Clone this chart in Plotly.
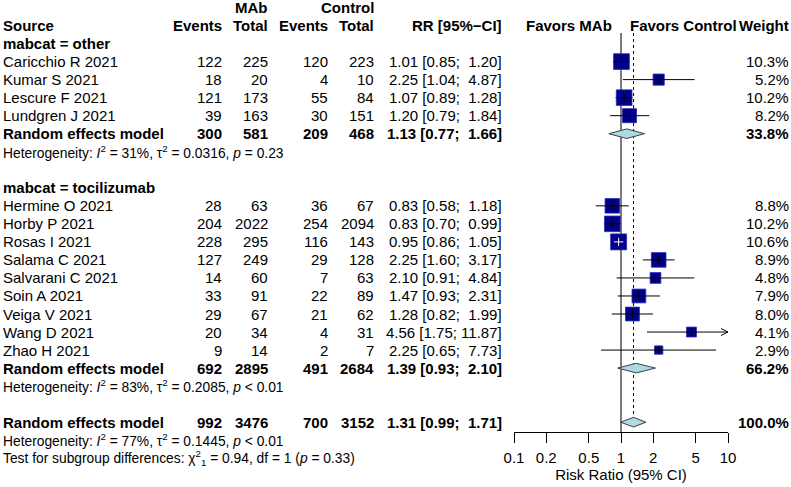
import math
import plotly.graph_objects as go

W, H = 791, 487
FONT = "Liberation Sans, Arial, Helvetica, sans-serif"

# ---------------- data ----------------
studies = ["Caricchio R 2021", "Kumar S 2021", "Lescure F 2021", "Lundgren J 2021",
           "Hermine O 2021", "Horby P 2021", "Rosas I 2021", "Salama C 2021",
           "Salvarani C 2021", "Soin A 2021", "Veiga V 2021", "Wang D 2021", "Zhao H 2021"]
group = [0, 0, 0, 0, 1, 1, 1, 1, 1, 1, 1, 1, 1]
ev_mab = [122, 18, 121, 39, 28, 204, 228, 127, 14, 33, 29, 20, 9]
n_mab = [225, 20, 173, 163, 63, 2022, 295, 249, 60, 91, 67, 34, 14]
ev_ctl = [120, 4, 55, 30, 36, 254, 116, 29, 7, 22, 21, 4, 2]
n_ctl = [223, 10, 84, 151, 67, 2094, 143, 128, 63, 89, 62, 31, 7]
rr = [1.01, 2.25, 1.07, 1.20, 0.83, 0.83, 0.95, 2.25, 2.10, 1.47, 1.28, 4.56, 2.25]
rr_lo = [0.85, 1.04, 0.89, 0.79, 0.58, 0.70, 0.86, 1.60, 0.91, 0.93, 0.82, 1.75, 0.65]
rr_hi = [1.20, 4.87, 1.28, 1.84, 1.18, 0.99, 1.05, 3.17, 4.84, 2.31, 1.99, 11.87, 7.73]
weight = [10.3, 5.2, 10.2, 8.2, 8.8, 10.2, 10.6, 8.9, 4.8, 7.9, 8.0, 4.1, 2.9]

sub_labels = ["mabcat = other", "mabcat = tocilizumab"]
sub_ev_mab = [300, 692]
sub_n_mab = [581, 2895]
sub_ev_ctl = [209, 491]
sub_n_ctl = [468, 2684]
sub_rr = [1.13, 1.39]
sub_lo = [0.77, 0.93]
sub_hi = [1.66, 2.10]
sub_weight = [33.8, 66.2]
sub_i2 = ["31%", "83%"]
sub_tau2 = ["0.0316", "0.2085"]
sub_p = ["= 0.23", "< 0.01"]

tot_ev_mab, tot_n_mab, tot_ev_ctl, tot_n_ctl = 992, 3476, 700, 3152
tot_rr, tot_lo, tot_hi, tot_weight = 1.31, 0.99, 1.71, 100.0
tot_i2, tot_tau2, tot_p = "77%", "0.1445", "< 0.01"
test_chi2, test_df, test_p = "0.94", "1", "0.33"

x_tickvals = [0.1, 0.2, 0.5, 1, 2, 5, 10]
x_ticktext = ["0.1", "0.2", "0.5", "1", "2", "5", "10"]
x_title = "Risk Ratio (95% CI)"

# ---------------- layout constants (pixels) ----------------
ROW0_PX = 7.5
ROW_PX = 18.03
AXIS_PX = 432
PLOT_L, PLOT_R = 514, 728
X_MIN, X_MAX = 0.1, 10
PX_PER_DEC = (PLOT_R - PLOT_L) / (math.log10(X_MAX) - math.log10(X_MIN))

C_SRC = 2
C_EVM = 223
C_NM = 268.5
C_EVC = 328.5
C_NC = 374.5
C_RR = 503
C_W = 790
FS = 15
FS_HET = 13.8
SQ_K = 4.9

NB = "\u00a0"


def px_row(px):
    return (px - ROW0_PX) / ROW_PX


annotations = []


def txt(s, px, row, anchor="right", bold=False, size=FS):
    annotations.append(dict(
        text=f"<b>{s}</b>" if bold else s, x=px / W, xref="paper", y=row, yref="y",
        xanchor=anchor, yanchor="middle", showarrow=False, borderpad=0,
        font=dict(family=FONT, size=size, color="black")))


def ci_text(e, l, h):
    return f"{e:.2f} [{l:.2f};{NB}{h:5.2f}]".replace(" ", NB)


def data_cols(row, a, b, c, d, e, l, h, w, bold=False):
    txt(str(a), C_EVM, row, bold=bold)
    txt(str(b), C_NM, row, bold=bold)
    txt(str(c), C_EVC, row, bold=bold)
    txt(str(d), C_NC, row, bold=bold)
    txt(ci_text(e, l, h), C_RR, row, bold=bold)
    txt(f"{w:.1f}%", C_W, row, bold=bold)


def het_text(i2, tau2, p):
    return (f"Heterogeneity: <i>I</i><sup>2</sup> = {i2}, τ<sup>2</sup> = {tau2}, "
            f"<i>p</i> {p}")


# headers
txt("MAb", C_NM, 0, bold=True)
txt("Control", C_NC, 0, bold=True)
txt("Source", C_SRC, 1, anchor="left", bold=True)
txt("Events", C_EVM, 1, bold=True)
txt("Total", C_NM, 1, bold=True)
txt("Events", C_EVC, 1, bold=True)
txt("Total", C_NC, 1, bold=True)
txt("RR [95%−CI]", C_RR, 1, bold=True)
one_px = PLOT_L + PX_PER_DEC * (0 - math.log10(X_MIN))
txt("Favors MAb", one_px - 8, 1, bold=True)
txt("Favors Control", one_px + 8, 1, anchor="left", bold=True)
txt("Weight", C_W, 1, bold=True)

study_rows = [0] * len(studies)
sub_rows = [0, 0]
r = 2
for g, name in enumerate(sub_labels):
    txt(name, C_SRC, r, anchor="left", bold=True)
    r += 1
    for i in range(len(studies)):
        if group[i] == g:
            study_rows[i] = r
            txt(studies[i], C_SRC, r, anchor="left")
            data_cols(r, ev_mab[i], n_mab[i], ev_ctl[i], n_ctl[i], rr[i], rr_lo[i], rr_hi[i], weight[i])
            r += 1
    sub_rows[g] = r
    txt("Random effects model", C_SRC, r, anchor="left", bold=True)
    data_cols(r, sub_ev_mab[g], sub_n_mab[g], sub_ev_ctl[g], sub_n_ctl[g],
              sub_rr[g], sub_lo[g], sub_hi[g], sub_weight[g], bold=True)
    r += 1
    txt(het_text(sub_i2[g], sub_tau2[g], sub_p[g]), C_SRC, r, anchor="left", size=FS_HET)
    r += 2
tot_row = r
txt("Random effects model", C_SRC, tot_row, anchor="left", bold=True)
data_cols(tot_row, tot_ev_mab, tot_n_mab, tot_ev_ctl, tot_n_ctl, tot_rr, tot_lo, tot_hi, tot_weight, bold=True)
txt(het_text(tot_i2, tot_tau2, tot_p), C_SRC, tot_row + 1, anchor="left", size=FS_HET)
txt(f"Test for subgroup differences: χ<sup>2</sup><sub>{test_df}</sub> = {test_chi2}, df = {test_df} "
    f"(<i>p</i> = {test_p})", C_SRC, tot_row + 2, anchor="left", size=FS_HET)

fig = go.Figure()

# reference lines
top_row = px_row(33)
axis_row = px_row(AXIS_PX)
fig.add_trace(go.Scatter(x=[1, 1], y=[top_row, axis_row], mode="lines",
                         line=dict(color="#6e6e6e", width=1.8), hoverinfo="skip"))
fig.add_trace(go.Scatter(x=[tot_rr, tot_rr], y=[top_row, tot_row], mode="lines",
                         line=dict(color="black", width=1, dash="dot"), hoverinfo="skip"))

# squares
sq_size = [SQ_K * math.sqrt(w) for w in weight]
fig.add_trace(go.Scatter(x=rr, y=study_rows, mode="markers",
                         marker=dict(symbol="square", size=sq_size, color="#00008B", opacity=1,
                                     line=dict(color="#2a2ab8", width=0.8)),
                         hoverinfo="skip"))

# CI lines (white when fully inside the square)
bx, by, wx, wy, tx_b, ty_b, tx_w, ty_w = [], [], [], [], [], [], [], []
for i in range(len(studies)):
    half = sq_size[i] / 2 / PX_PER_DEC
    inside = (math.log10(rr[i]) - math.log10(rr_lo[i]) < half and
              math.log10(rr_hi[i]) - math.log10(rr[i]) < half)
    hi_c = min(rr_hi[i], X_MAX)
    xs, ys = (wx, wy) if inside else (bx, by)
    xs += [rr_lo[i], hi_c, None]
    ys += [study_rows[i], study_rows[i], None]
    if inside:
        tx_w.append(rr[i]); ty_w.append(study_rows[i])
    else:
        tx_b.append(rr[i]); ty_b.append(study_rows[i])
    if rr_hi[i] > X_MAX:
        back = 10 ** (math.log10(X_MAX) - 7 / PX_PER_DEC)
        dy = 3.5 / ROW_PX
        bx += [back, X_MAX, back, None]
        by += [study_rows[i] - dy, study_rows[i], study_rows[i] + dy, None]
fig.add_trace(go.Scatter(x=bx, y=by, mode="lines", line=dict(color="black", width=1), hoverinfo="skip"))
fig.add_trace(go.Scatter(x=wx, y=wy, mode="lines", line=dict(color="white", width=1), hoverinfo="skip"))
fig.add_trace(go.Scatter(x=tx_b, y=ty_b, mode="markers",
                         marker=dict(symbol="line-ns", size=6, opacity=1, line=dict(color="black", width=1)),
                         hoverinfo="skip"))
fig.add_trace(go.Scatter(x=tx_w, y=ty_w, mode="markers",
                         marker=dict(symbol="line-ns", size=6, opacity=1, line=dict(color="white", width=1)),
                         hoverinfo="skip"))

# diamonds
dh = 4.8 / ROW_PX
for e, l, h, row in zip(sub_rr + [tot_rr], sub_lo + [tot_lo], sub_hi + [tot_hi], sub_rows + [tot_row]):
    fig.add_trace(go.Scatter(x=[l, e, h, e, l], y=[row, row - dh, row, row + dh, row],
                             mode="lines", fill="toself", fillcolor="#ADD8E6",
                             line=dict(color="#404040", width=1), hoverinfo="skip"))

fig.update_layout(
    width=W, height=H, margin=dict(l=0, r=0, t=0, b=0, pad=0, autoexpand=False),
    paper_bgcolor="white", plot_bgcolor="rgba(0,0,0,0)",
    showlegend=False, hovermode=False,
    annotations=annotations,
    font=dict(family=FONT, size=FS, color="black"),
    xaxis=dict(type="log", range=[math.log10(X_MIN), math.log10(X_MAX)],
               domain=[PLOT_L / W, PLOT_R / W], anchor="free", position=1 - AXIS_PX / H,
               showline=True, linecolor="black", linewidth=1, ticks="outside", ticklen=10,
               tickcolor="black", tickwidth=1, tickvals=x_tickvals, ticktext=x_ticktext,
               tickfont=dict(family=FONT, size=FS, color="black"), ticklabelstandoff=2,
               showgrid=False, zeroline=False, automargin=False,
               title=dict(text=x_title, font=dict(family=FONT, size=FS, color="black"), standoff=1)),
    yaxis=dict(range=[px_row(H), px_row(0)], domain=[0, 1], visible=False,
               showgrid=False, zeroline=False, automargin=False),
)

fig.write_html("out.html", config=dict(displayModeBar=False),
               post_script="document.body.style.margin='0';document.body.style.overflow='hidden';")
